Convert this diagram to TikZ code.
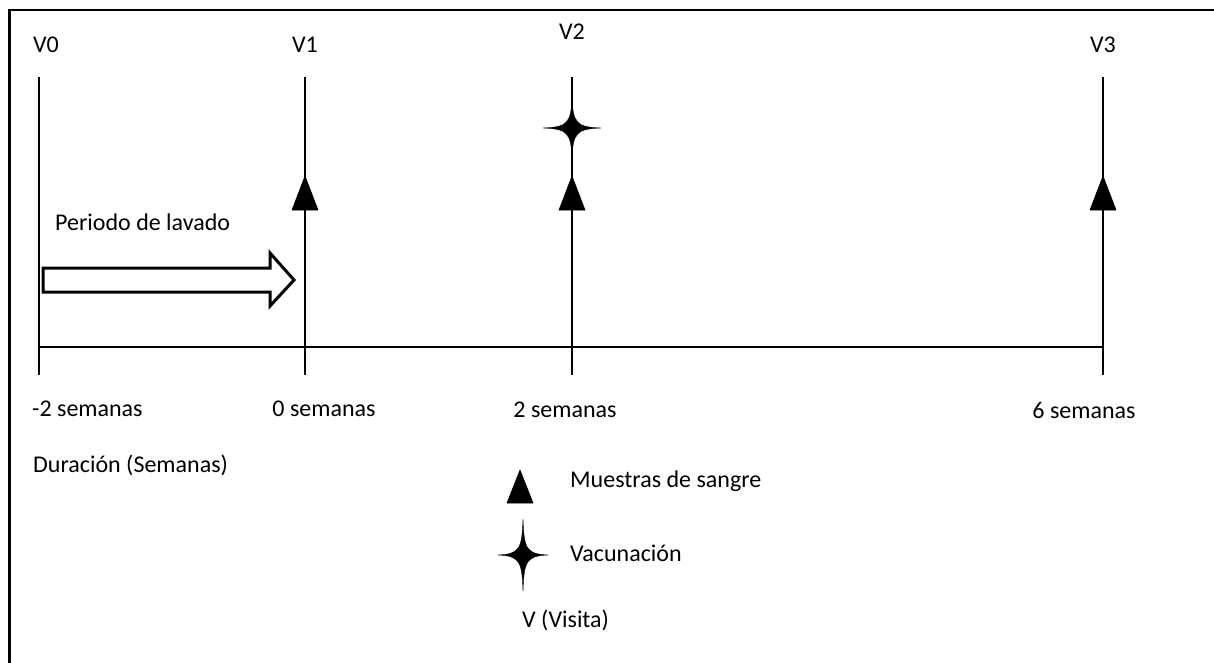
\documentclass[tikz,border=0pt]{standalone}
\usepackage{fontspec}
\setmainfont{Carlito}
\begin{document}
\begin{tikzpicture}[x=1pt,y=-1pt,
  lbl/.style={font=\fontsize{24}{28}\selectfont, inner sep=0pt},
  tick/.style={line width=1.4pt},
  sample/.style={fill=black, draw=black, line width=0.6pt, line join=round},
  vacc/.style={fill=black, draw=black, line width=0.4pt, line join=round},
]
\useasboundingbox (0,0) rectangle (1214,663);
% four-pointed star: centre (#1,#2), half-width #3, half-height #4
\def\vstar(#1,#2,#3,#4){%
  \fill[vacc] (#1,#2-#4)
    .. controls (#1+1,#2-0.15*#4) and (#1+0.15*#3,#2-1) .. (#1+#3,#2)
    .. controls (#1+0.15*#3,#2+1) and (#1+1,#2+0.15*#4) .. (#1,#2+#4)
    .. controls (#1-1,#2+0.15*#4) and (#1-0.15*#3,#2+1) .. (#1-#3,#2)
    .. controls (#1-0.15*#3,#2-1) and (#1-1,#2-0.15*#4) .. cycle;}
% frame (top and left edges)
\draw[line width=2pt] (1214,10) coordinate (fr) -- (9,10) coordinate (fc);
\draw[line width=3pt] (9,9) coordinate (ft) -- (9,663) coordinate (fb);

% time axis
\coordinate (a0) at (39,347);
\coordinate (a3) at (1103,347);
\draw[tick] (a0) -- (a3);

% visit lines
\foreach \n/\x in {0/39,1/305,2/572,3/1103}{
  \coordinate (top\n) at (\x,77);
  \coordinate (bot\n) at (\x,375);
  \draw[tick] (top\n) -- (bot\n);
}

% visit labels
\node[lbl] (v0) at (46,45) {V0};
\node[lbl] (v1) at (305,45) {V1};
\node[lbl] (v2) at (572,32) {V2};
\node[lbl] (v3) at (1103,45) {V3};

% week labels
\node[lbl, anchor=west] (w0) at (32,409) {-2 semanas};
\node[lbl] (w1) at (324,409) {0 semanas};
\node[lbl] (w2) at (565,410) {2 semanas};
\node[lbl] (w3) at (1084,410) {6 semanas};
\node[lbl, anchor=west] (dur) at (33,465) {Duración (Semanas)};

% blood samples
\foreach \x in {305,572,1103}{
  \fill[sample] (\x-13,210) -- (\x,176) -- (\x+13,210) -- cycle;
}

% vaccination at V2
\vstar(572,128,29,31)

% washout period arrow
\node[lbl, anchor=west] (wash) at (55,222) {Periodo de lavado};
\draw[line width=3pt, line join=miter, fill=white]
  (43,268) -- (270,268) -- (270,253) -- (294,280) -- (270,306)
  -- (270,292) -- (43,292) -- cycle;

% legend
\fill[sample] (507,503) -- (520,470) -- (533,503) -- cycle;
\node[lbl, anchor=west] (leg1) at (570,481) {Muestras de sangre};
\vstar(523,555,25,36)
\node[lbl, anchor=west] (leg2) at (570,553) {Vacunación};
\node[lbl, anchor=west] (leg3) at (522,620) {V (Visita)};
\end{tikzpicture}
\end{document}
